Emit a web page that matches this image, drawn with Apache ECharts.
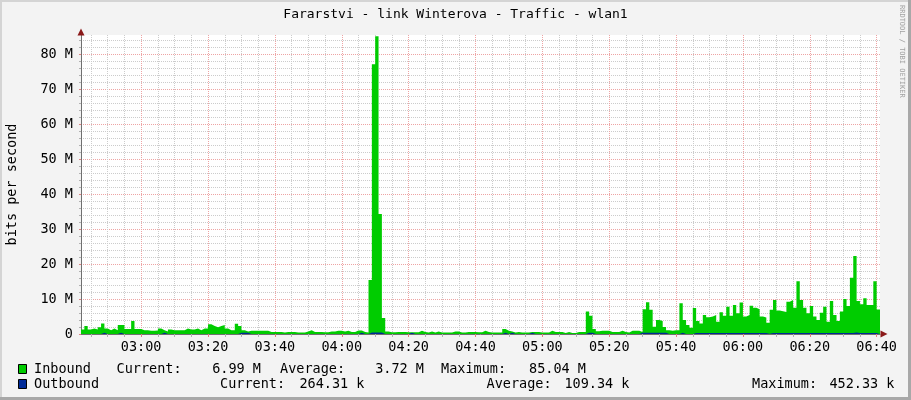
<!DOCTYPE html>
<html><head><meta charset="utf-8">
<script src="https://cdn.jsdelivr.net/npm/echarts@6/dist/echarts.min.js"></script>
<style>html,body{margin:0;padding:0;background:#f3f3f3}#c{width:911px;height:400px}</style>
</head><body><div id="c"></div><script>
// ---------- data ----------
const chartTitle = 'Fararstvi - link Winterova - Traffic - wlan1';
const yAxisTitle = 'bits per second';
const watermark = 'RRDTOOL / TOBI OETIKER';
const startMinute = 162;      // 02:42, one sample per minute
const endMinute = 401;        // 06:41
// Inbound traffic, Mbit/s, one value per minute from 02:42
const inboundMbps = [
  1.3,2.3,1.3,1.6,1.3,1.9,3.0,1.6,1.1,1.6,
  1.1,2.6,2.6,1.4,1.4,3.7,1.4,1.4,1.1,1.1,
  0.9,0.9,1.0,1.6,1.1,0.7,1.3,1.1,1.1,1.1,
  1.1,1.6,1.3,1.3,1.6,1.1,1.6,1.6,2.8,2.3,
  1.9,2.3,2.6,1.6,1.1,1.1,2.9,2.3,1.1,0.7,
  0.9,0.9,0.9,0.9,0.9,0.9,0.6,0.6,0.6,0.6,
  0.4,0.6,0.6,0.6,0.4,0.4,0.4,0.7,1.1,0.6,
  0.6,0.6,0.5,0.5,0.7,0.7,0.9,0.9,0.7,0.9,
  0.6,0.6,1.0,1.0,0.6,0.4,15.4,77.1,85.04,34.3,
  4.6,0.7,0.5,0.5,0.6,0.6,0.6,0.5,0.5,0.5,
  0.5,0.9,0.6,0.4,0.7,0.4,0.7,0.4,0.4,0.4,
  0.4,0.7,0.7,0.4,0.4,0.6,0.6,0.6,0.5,0.5,
  0.9,0.6,0.4,0.4,0.4,0.4,1.4,0.9,0.7,0.4,
  0.6,0.4,0.4,0.4,0.6,0.6,0.6,0.4,0.4,0.4,
  0.9,0.6,0.6,0.6,0.3,0.6,0.3,0.3,0.6,0.6,
  0.6,6.4,5.2,1.4,0.8,0.9,0.9,0.9,0.6,0.6,
  0.6,0.9,0.6,0.4,0.9,0.9,0.9,0.6,7.1,9.1,
  6.9,2.1,4.0,3.7,2.0,1.1,0.9,1.1,1.1,8.8,
  4.0,2.6,1.8,7.4,3.7,3.0,5.4,4.8,5.0,5.4,
  3.5,6.2,5.2,7.8,5.2,8.3,5.9,9.0,5.0,5.4,
  8.1,7.5,7.1,5.0,4.7,3.2,6.9,9.7,6.7,6.5,
  6.3,9.2,9.7,7.5,15.1,9.7,7.5,5.9,8.0,5.0,
  4.0,6.1,7.8,3.5,9.4,5.4,3.7,6.4,10.0,8.0,
  16.1,22.3,9.4,8.5,10.2,8.3,8.3,15.1,6.99
];
// Outbound traffic, Mbit/s
const outboundMbps = [
  0.03,0.03,0.03,0.03,0.03,0.03,0.35,0.03,0.03,0.03,
  0.03,0.35,0.03,0.03,0.03,0.03,0.03,0.03,0.03,0.03,
  0.03,0.03,0.03,0.03,0.35,0.03,0.03,0.03,0.03,0.03,
  0.03,0.03,0.03,0.03,0.03,0.03,0.03,0.03,0.03,0.03,
  0.03,0.03,0.03,0.03,0.03,0.03,0.03,0.35,0.35,0.35,
  0.03,0.03,0.03,0.03,0.03,0.03,0.03,0.03,0.03,0.03,
  0.03,0.03,0.03,0.03,0.03,0.03,0.03,0.03,0.03,0.03,
  0.03,0.03,0.03,0.03,0.03,0.03,0.03,0.03,0.03,0.03,
  0.03,0.03,0.03,0.35,0.03,0.03,0.40,0.40,0.45,0.40,
  0.03,0.03,0.03,0.03,0.03,0.03,0.03,0.03,0.35,0.03,
  0.03,0.03,0.03,0.03,0.03,0.03,0.03,0.03,0.03,0.03,
  0.03,0.03,0.03,0.03,0.03,0.03,0.03,0.03,0.03,0.03,
  0.03,0.03,0.03,0.03,0.03,0.03,0.35,0.03,0.35,0.03,
  0.03,0.03,0.03,0.03,0.35,0.03,0.03,0.03,0.03,0.03,
  0.03,0.03,0.03,0.03,0.03,0.03,0.03,0.03,0.03,0.03,
  0.03,0.35,0.35,0.03,0.03,0.03,0.03,0.03,0.03,0.03,
  0.03,0.03,0.03,0.03,0.03,0.03,0.03,0.35,0.35,0.35,
  0.35,0.35,0.35,0.35,0.35,0.03,0.03,0.03,0.03,0.35,
  0.03,0.03,0.03,0.30,0.30,0.30,0.30,0.30,0.30,0.30,
  0.30,0.30,0.30,0.30,0.30,0.30,0.30,0.30,0.30,0.30,
  0.30,0.30,0.30,0.30,0.30,0.05,0.30,0.30,0.30,0.30,
  0.30,0.30,0.30,0.30,0.30,0.30,0.30,0.30,0.30,0.30,
  0.30,0.30,0.30,0.30,0.30,0.30,0.30,0.30,0.30,0.30,
  0.30,0.45,0.30,0.30,0.30,0.30,0.30,0.30,0.26
];
const timeTickMinutes = [180,200,220,240,260,280,300,320,340,360,380,400];
const minorTimeTickMinutes = [165,170,175,185,190,195,205,210,215,225,230,235,245,250,255,265,270,275,
  285,290,295,305,310,315,325,330,335,345,350,355,365,370,375,385,390,395];
const valueTicksMbps = [0,10,20,30,40,50,60,70,80];
const minorValueTicksMbps = [2,4,6,8,12,14,16,18,22,24,26,28,32,34,36,38,42,44,46,48,
  52,54,56,58,62,64,66,68,72,74,76,78,82,84];
const yMaxMbps = 85.43;
const legendNames = ['Inbound', 'Outbound'];
const legendCurrent = ['6.99 M', '264.31 k'];
const legendAverage = ['3.72 M', '109.34 k'];
const legendMaximum = ['85.04 M', '452.33 k'];
const seriesColors = ['#00cc00', '#002a97'];

// ---------- chart ----------
const MONO = '"DejaVu Sans Mono", "Liberation Mono", monospace';
const M = 1e6;
function toPairs(arr) {
  const out = arr.map((v, i) => [startMinute + i, v * M]);
  out.push([endMinute, arr[arr.length - 1] * M]);
  return out;
}
function hhmm(v) {
  const h = Math.floor(v / 60), m = Math.round(v % 60);
  return String(h).padStart(2, '0') + ':' + String(m).padStart(2, '0');
}
const majorColor = '#eea4a4';
const minorColor = '#cccccc';
const axisColor = '#707070';
const arrowColor = '#8b1a1a';
const dash = [1, 1];

const chart = echarts.init(document.getElementById('c'), null, {renderer: 'canvas'});

const graphics = [
  {type: 'rect', shape: {x: 0, y: 0, width: 911, height: 2}, style: {fill: '#d4d4d4'}, silent: true},
  {type: 'rect', shape: {x: 0, y: 0, width: 2, height: 400}, style: {fill: '#d4d4d4'}, silent: true},
  {type: 'rect', shape: {x: 908, y: 0, width: 3, height: 400}, style: {fill: '#a8a8a8'}, silent: true},
  {type: 'rect', shape: {x: 0, y: 397, width: 911, height: 3}, style: {fill: '#a8a8a8'}, silent: true},
  {type: 'text', x: 455.5, y: 15, style: {text: chartTitle, font: '13px ' + MONO, fill: '#000', align: 'center', verticalAlign: 'middle'}},
  {type: 'text', x: 902, y: 5, rotation: -Math.PI / 2, style: {text: watermark, font: '7px ' + MONO, fill: '#a0a0a0', align: 'left', verticalAlign: 'middle'}}
];
const rowY = [369, 384];
const curX = [116.5, 220], curValR = [261, 364.5];
const avgX = [280, 486.5], avgValR = [424, 629.5];
const maxX = [441, 752], maxValR = [586, 894.5];
const LF = '13.5px ' + MONO;
legendNames.forEach((name, i) => {
  const y = rowY[i];
  graphics.push({type: 'rect', shape: {x: 18.5, y: y - 4.5, width: 8, height: 9}, style: {fill: seriesColors[i], stroke: '#000', lineWidth: 1}});
  graphics.push({type: 'text', x: 34, y: y, style: {text: name, font: LF, fill: '#000', verticalAlign: 'middle'}});
  graphics.push({type: 'text', x: curX[i], y: y, style: {text: 'Current:', font: LF, fill: '#000', verticalAlign: 'middle'}});
  graphics.push({type: 'text', x: curValR[i], y: y, style: {text: legendCurrent[i], font: LF, fill: '#000', align: 'right', verticalAlign: 'middle'}});
  graphics.push({type: 'text', x: avgX[i], y: y, style: {text: 'Average:', font: LF, fill: '#000', verticalAlign: 'middle'}});
  graphics.push({type: 'text', x: avgValR[i], y: y, style: {text: legendAverage[i], font: LF, fill: '#000', align: 'right', verticalAlign: 'middle'}});
  graphics.push({type: 'text', x: maxX[i], y: y, style: {text: 'Maximum:', font: LF, fill: '#000', verticalAlign: 'middle'}});
  graphics.push({type: 'text', x: maxValR[i], y: y, style: {text: legendMaximum[i], font: LF, fill: '#000', align: 'right', verticalAlign: 'middle'}});
});

const option = {
  backgroundColor: '#f3f3f3',
  animation: false,
  grid: {left: 81, right: 31, top: 35, bottom: 66, show: true, backgroundColor: '#ffffff', borderWidth: 0,
    containLabel: false, outerBoundsMode: 'none'},
  xAxis: [
    {
      type: 'value', min: startMinute, max: endMinute, position: 'bottom',
      axisLine: {show: true, lineStyle: {color: axisColor, width: 1}},
      axisTick: {show: true, length: 3, inside: false, customValues: timeTickMinutes, lineStyle: {color: '#e08080'}},
      axisLabel: {customValues: timeTickMinutes, formatter: hhmm, margin: 6, color: '#000', fontFamily: MONO, fontSize: 13.5},
      splitLine: {show: true, lineStyle: {color: majorColor, type: dash, width: 1}}
    },
    {
      type: 'value', min: startMinute, max: endMinute, position: 'bottom',
      axisLine: {show: true, symbol: ['none', 'triangle'], symbolSize: [7, 7], symbolOffset: [0, 4], lineStyle: {color: arrowColor, width: 0}},
      axisTick: {show: true, length: 3, customValues: minorTimeTickMinutes, lineStyle: {color: '#b0b0b0'}},
      axisLabel: {show: false, customValues: minorTimeTickMinutes},
      splitLine: {show: true, lineStyle: {color: minorColor, type: dash, width: 1}}
    }
  ],
  yAxis: [
    {
      type: 'value', min: 0, max: yMaxMbps * M, position: 'left',
      name: yAxisTitle, nameLocation: 'middle', nameGap: 62, nameRotate: 90,
      nameTextStyle: {fontFamily: MONO, fontSize: 13.5, color: '#000'},
      axisLine: {show: true, lineStyle: {color: axisColor, width: 1}},
      axisTick: {show: true, length: 2, customValues: valueTicksMbps.map(v => v * M), lineStyle: {color: '#e08080'}},
      axisLabel: {customValues: valueTicksMbps.map(v => v * M), margin: 8, color: '#000', fontFamily: MONO, fontSize: 13.5,
        formatter: v => v === 0 ? '0' : (v / M) + ' M'},
      splitLine: {show: true, lineStyle: {color: majorColor, type: dash, width: 1}}
    },
    {
      type: 'value', min: 0, max: yMaxMbps * M, position: 'left',
      axisLine: {show: true, symbol: ['none', 'triangle'], symbolSize: [7, 7], symbolOffset: [0, 3], lineStyle: {color: arrowColor, width: 0}},
      axisTick: {show: true, length: 2, customValues: minorValueTicksMbps.map(v => v * M), lineStyle: {color: '#b0b0b0'}},
      axisLabel: {show: false, customValues: minorValueTicksMbps.map(v => v * M)},
      splitLine: {show: true, lineStyle: {color: minorColor, type: dash, width: 1}}
    }
  ],
  series: [
    {
      name: legendNames[0], type: 'line', step: 'end', xAxisIndex: 0, yAxisIndex: 0,
      data: toPairs(inboundMbps), showSymbol: false, symbol: 'none',
      lineStyle: {width: 0, color: seriesColors[0]},
      areaStyle: {color: seriesColors[0], opacity: 1},
      z: 3
    },
    {
      name: legendNames[1], type: 'line', step: 'end', xAxisIndex: 0, yAxisIndex: 0,
      data: toPairs(outboundMbps), showSymbol: false, symbol: 'none',
      lineStyle: {width: 0, color: seriesColors[1]},
      areaStyle: {color: seriesColors[1], opacity: 1},
      z: 4
    }
  ],
  graphic: graphics
};
chart.setOption(option);
</script></body></html>
